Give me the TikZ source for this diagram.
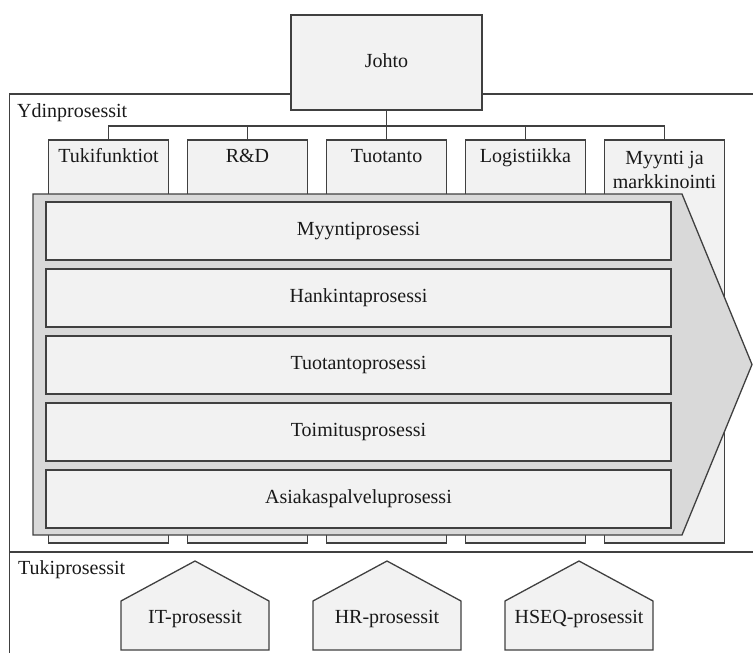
\documentclass[tikz,border=0pt]{standalone}
\usepackage{fontspec}
\setmainfont{Liberation Serif}
\definecolor{linegray}{HTML}{404040}
\definecolor{boxgray}{HTML}{F2F2F2}
\definecolor{chevgray}{HTML}{D9D9D9}
\begin{document}
\begin{tikzpicture}[x=1pt,y=-1pt,
  line/.style={draw=linegray, line width=1.3pt},
  box/.style={line, fill=boxgray, rectangle, inner sep=0pt, outer sep=0pt},
  txt/.style={font=\fontsize{20}{23.5}\selectfont, text=black!90, inner sep=0pt},
  lbl/.style={txt, text height=14pt, text depth=5pt},
  funcbox/.style={box, minimum width=120pt, minimum height=403pt},
  procbar/.style={box, minimum width=625pt, minimum height=58pt, lbl},
]
\useasboundingbox (0,0) rectangle (753,653);

% outer frame and the divider between the two areas
\draw[line] (9.5,653) -- (9.5,94) -- (753,94);
\draw[line] (9.5,552) -- (753,552);
\node[txt, anchor=west] (ydin) at (17,113) {Ydinprosessit};
\node[txt, anchor=west] (tuki) at (18,570) {Tukiprosessit};

% management box
\node[box, lbl, minimum width=191pt, minimum height=95pt] (johto) at (386.5,62.5) {Johto};

% functional columns
\coordinate (hub) at (386.5,126);
\foreach \i/\x in {1/108.5,2/247.5,3/386.5,4/525.5,5/664.5}{
  \node[funcbox] (f\i) at (\x,341.5) {};
}
\draw[line] (johto.south) -- (hub);
\foreach \i in {1,...,5}{
  \draw[line] (f\i.north) |- (hub);
}
\node[lbl] (f1t) at (108.5,158) {Tukifunktiot};
\node[lbl] (f2t) at (247.5,158) {R\&D};
\node[lbl] (f3t) at (386.5,158) {Tuotanto};
\node[lbl] (f4t) at (525.5,158) {Logistiikka};
\node[txt, align=center] (f5t) at (664.5,170) {Myynti ja\\markkinointi};

% process chevron
\draw[line, fill=chevgray, line join=miter]
  (33,194) -- (682,194) -- (752,364.5) -- (682,535) -- (33,535) -- cycle;

% core processes
\foreach \i/\name in {0/Myyntiprosessi,1/Hankintaprosessi,2/Tuotantoprosessi,3/Toimitusprosessi,4/Asiakaspalveluprosessi}{
  \node[procbar] (p\i) at (358.5,231+67*\i) {\name};
}

% support processes
\foreach \i/\x/\name in {1/195/IT-prosessit,2/387/HR-prosessit,3/579/HSEQ-prosessit}{
  \draw[line, fill=boxgray, line join=miter]
    (\x-74,650) -- (\x-74,601) -- (\x,561) -- (\x+74,601) -- (\x+74,650) -- cycle;
  \node[lbl] (s\i) at (\x,619) {\name};
}
\end{tikzpicture}
\end{document}
